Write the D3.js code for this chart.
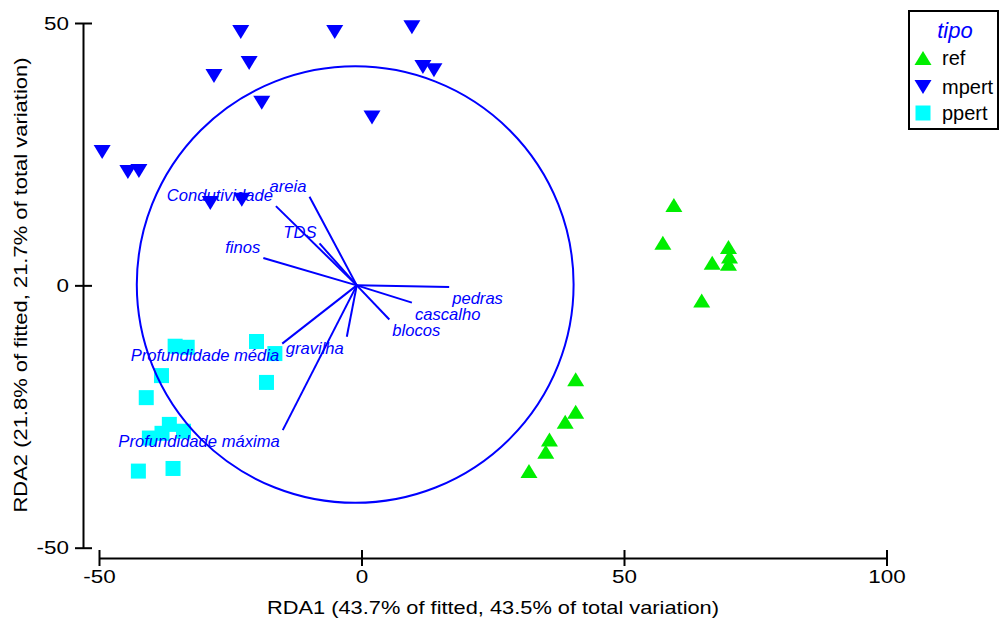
<!DOCTYPE html>
<html>
<head>
<meta charset="utf-8">
<script src="https://cdn.jsdelivr.net/npm/d3@7"></script>
<style>
  body { margin: 0; background: #fff; }
  svg { display: block; font-family: "Liberation Sans", Arial, sans-serif; }
</style>
</head>
<body>
<script>
// eixos
var xTicks = [-50, 0, 50, 100];
var yTicks = [-50, 0, 50];
var xTitle = "RDA1 (43.7% of fitted, 43.5% of total variation)";
var yTitle = "RDA2 (21.8% of fitted, 21.7% of total variation)";

// tipo = ref (triângulo verde)
var refX = [59.5, 57.4, 69.9, 70.1, 69.9, 66.8, 64.8, 40.8, 40.8, 38.8, 35.8, 35.1, 31.9];
var refY = [15.3, 8.1, 7.3, 5.5, 4.1, 4.3, -2.9, -17.9, -24.1, -26.0, -29.4, -31.7, -35.4];

// tipo = mpert (triângulo azul invertido)
var mpertX = [-23.0, -5.1, 9.6, -21.4, -28.1, 11.7, 13.8, -19.0, 2.0, -49.4, -44.5, -42.4, -28.8, -22.8];
var mpertY = [48.3, 48.3, 49.2, 42.4, 39.9, 41.6, 41.0, 34.8, 32.0, 25.4, 21.6, 21.8, 15.7, 16.3];

// tipo = ppert (quadrado ciano)
var ppertX = [-35.5, -33.2, -20.0, -16.5, -38.1, -18.1, -41.0, -36.6, -40.4, -38.0, -33.9, -42.5, -35.9];
var ppertY = [-11.6, -11.8, -10.7, -13.0, -17.2, -18.5, -21.4, -26.5, -29.1, -28.2, -27.8, -35.4, -34.9];

// variáveis ambientais (vetores)
var varNames = ["areia", "Condutividade", "TDS", "finos", "pedras", "cascalho", "blocos",
                "gravilha", "Profundidade média", "Profundidade máxima"];
var varX = [-9.9, -16.3, -8.0, -18.7, 16.7, 9.6, 5.3, -2.8, -15.1, -15.0];
var varY = [16.9, 15.1, 8.0, 5.2, -0.3, -3.3, -6.5, -9.8, -11.1, -27.6];
var vecOrigin = [-0.9, 0];

// círculo
var circleCenter = [-1.2, 0.15];
var circleRadius = 41.6;

var tipos = ["ref", "mpert", "ppert"];
var cores = {ref: "#00ee00", mpert: "#0000ff", ppert: "#00ffff"};

var W = 1000, H = 622;

var svg = d3.select("body").append("svg")
    .attr("width", W)
    .attr("height", H);

// escalas
var x = d3.scaleLinear().domain([-50, 100]).range([99, 886.5]);
var y = d3.scaleLinear().domain([-50, 50]).range([547.7, 23]);

// texto um pouco mais largo, como no original
function stretch(sel, f) {
    sel.each(function() {
        var w = this.getComputedTextLength();
        d3.select(this).attr("textLength", w * f).attr("lengthAdjust", "spacingAndGlyphs");
    });
}

// símbolos
function marker(g, tipo) {
    if (tipo === "ref") {
        g.append("path").attr("d", "M0,-7L8.5,7L-8.5,7Z");
    } else if (tipo === "mpert") {
        g.append("path").attr("d", "M0,7L8.5,-7L-8.5,-7Z");
    } else {
        g.append("rect").attr("x", -7.5).attr("y", -7.5).attr("width", 15).attr("height", 15);
    }
    g.attr("fill", cores[tipo]);
}

var pontos = {
    ref: d3.zip(refX, refY),
    mpert: d3.zip(mpertX, mpertY),
    ppert: d3.zip(ppertX, ppertY)
};

tipos.forEach(function(t) {
    svg.append("g").attr("class", "pts " + t)
        .selectAll("g").data(pontos[t]).enter()
        .append("g")
        .attr("transform", function(d) { return "translate(" + x(d[0]) + "," + y(d[1]) + ")"; })
        .each(function() { marker(d3.select(this), t); });
});

// círculo de equilíbrio
svg.append("ellipse")
    .attr("cx", x(circleCenter[0]))
    .attr("cy", y(circleCenter[1]))
    .attr("rx", x(circleRadius) - x(0))
    .attr("ry", y(0) - y(circleRadius))
    .attr("fill", "none")
    .attr("stroke", "#0000ff")
    .attr("stroke-width", 2);

// vetores
var vars = varNames.map(function(n, i) { return {name: n, x: varX[i], y: varY[i]}; });

svg.append("g").selectAll("line").data(vars).enter()
    .append("line")
    .attr("x1", x(vecOrigin[0]))
    .attr("y1", y(vecOrigin[1]))
    .attr("x2", function(d) { return x(d.x); })
    .attr("y2", function(d) { return y(d.y); })
    .attr("stroke", "#0000ff")
    .attr("stroke-width", 2);

svg.append("g").selectAll("text").data(vars).enter()
    .append("text")
    .attr("x", function(d) { return x(d.x) + (d.x < vecOrigin[0] ? -3 : 3); })
    .attr("y", function(d) { return y(d.y) + (d.y > 0 ? -5 : 17); })
    .attr("text-anchor", function(d) { return d.x < vecOrigin[0] ? "end" : "start"; })
    .attr("font-size", 16.6)
    .attr("font-style", "italic")
    .attr("fill", "#0000ff")
    .text(function(d) { return d.name; });

// eixo X
var fmt = function(d) { return String(d); };
var gx = svg.append("g")
    .attr("transform", "translate(0,558)")
    .call(d3.axisBottom(x).tickValues(xTicks).tickFormat(fmt).tickSize(8).tickSizeOuter(0).tickPadding(4));
gx.selectAll(".tick line").attr("y1", -8).attr("y2", 8);

// eixo Y
var gy = svg.append("g")
    .attr("transform", "translate(83,0)")
    .call(d3.axisLeft(y).tickValues(yTicks).tickFormat(fmt).tickSize(8).tickSizeOuter(0).tickPadding(6));
gy.selectAll(".tick line").attr("x1", -8).attr("x2", 9);

[gx, gy].forEach(function(g) {
    g.select(".domain").attr("stroke", "#000").attr("stroke-width", 2);
    g.selectAll(".tick line").attr("stroke", "#000").attr("stroke-width", 2);
    g.selectAll(".tick text")
        .attr("font-size", 19)
        .attr("font-family", "'Liberation Sans', Arial, sans-serif")
        .attr("fill", "#000")
        .call(stretch, 1.18);
});

// títulos dos eixos
svg.append("text")
    .attr("x", 493)
    .attr("y", 614)
    .attr("text-anchor", "middle")
    .attr("font-size", 19)
    .attr("textLength", 452)
    .attr("lengthAdjust", "spacingAndGlyphs")
    .text(xTitle);

svg.append("text")
    .attr("transform", "translate(27,285) rotate(-90)")
    .attr("text-anchor", "middle")
    .attr("font-size", 19)
    .attr("textLength", 455)
    .attr("lengthAdjust", "spacingAndGlyphs")
    .text(yTitle);

// legenda
var leg = svg.append("g");
leg.append("rect")
    .attr("x", 909).attr("y", 11)
    .attr("width", 89).attr("height", 118)
    .attr("fill", "#fff")
    .attr("stroke", "#000")
    .attr("stroke-width", 2);

leg.append("text")
    .attr("x", 955).attr("y", 38)
    .attr("text-anchor", "middle")
    .attr("font-size", 22)
    .attr("font-style", "italic")
    .attr("fill", "#0000ff")
    .text("tipo");

tipos.forEach(function(t, i) {
    var yy = [58, 87, 113][i];
    var g = leg.append("g").attr("transform", "translate(923," + yy + ")");
    marker(g, t);
    leg.append("text")
        .attr("x", 942).attr("y", yy + 7)
        .attr("font-size", 20)
        .attr("fill", "#000")
        .text(t);
});
</script>
</body>
</html>
